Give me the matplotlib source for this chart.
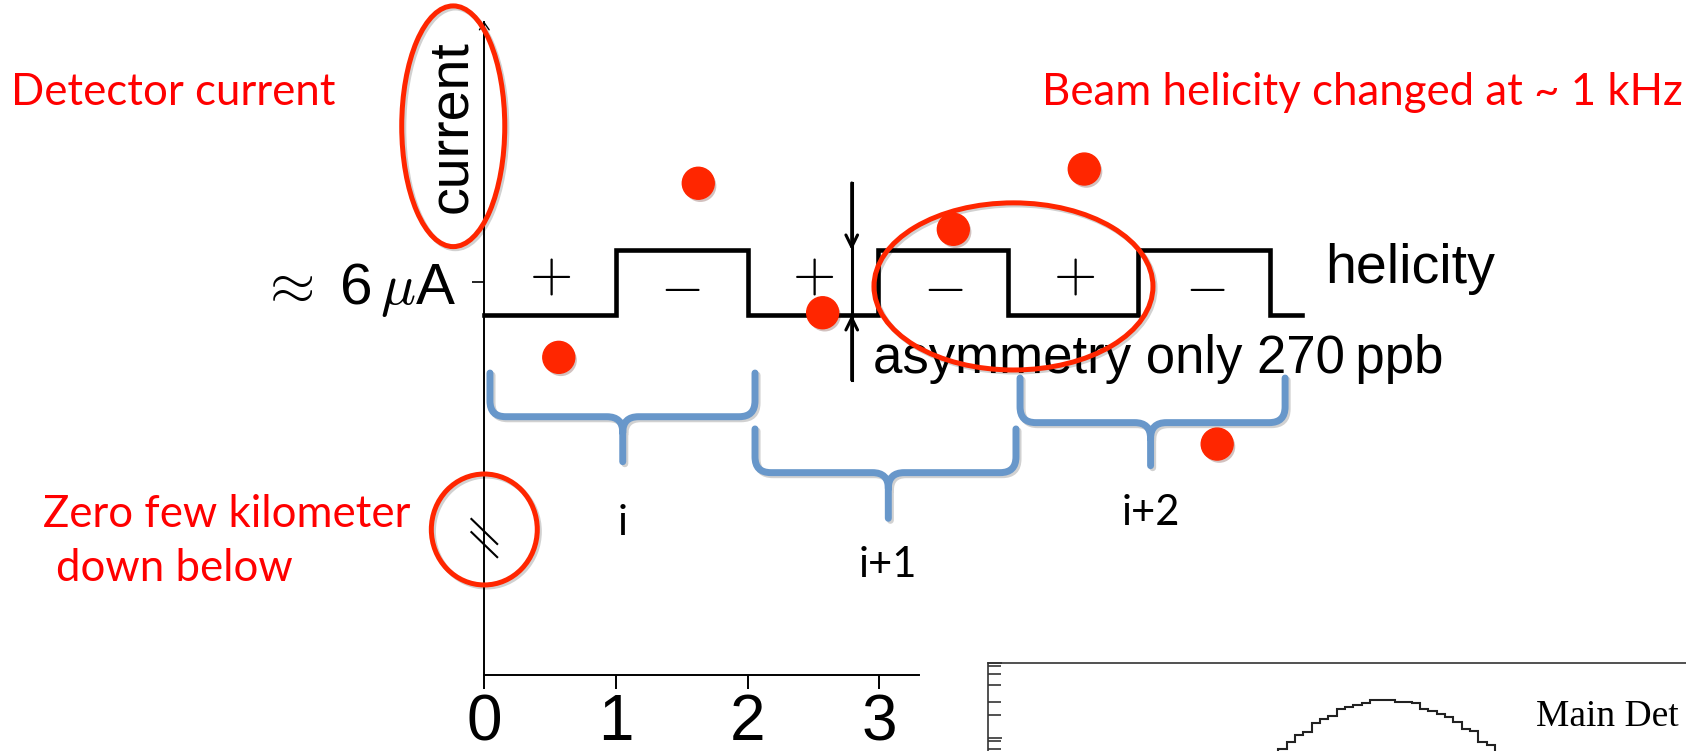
import matplotlib.pyplot as plt
import matplotlib.patheffects as pe
from matplotlib.patches import Ellipse, PathPatch
from matplotlib.path import Path
from matplotlib.ticker import LogLocator
import numpy as np

plt.rcParams['font.family'] = 'Liberation Sans'
plt.rcParams['mathtext.fontset'] = 'cm'

W, H = 1686, 751
RED = '#ff2600'
BLUE = '#6897ca'

# time in helicity windows (~1 ms each), current in the same drawing units
window_edges = [0.0, 1.0, 2.0, 2.99, 3.98, 4.97, 5.97, 6.21]
helicity = ['+', '-', '+', '-', '+', '-', '+']
current_plus = 2.74
current_minus = 3.23
current_level = 2.985      # ~6 uA
time_ticks = [0, 1, 2, 3]

# sign of each window, written inside the square wave
sign_t = [0.499, 1.492, 2.495, 3.488, 4.481, 5.476]
sign_y = {'+': 3.034, '-': 2.941}

# detector current read out in each window
sample_t = [0.566, 1.626, 2.571, 3.564, 4.559, 5.569]
sample_i = [2.416, 3.739, 2.755, 3.389, 3.847, 1.757]

# asymmetry marker
arrow_t = 2.792
arrow_lo, arrow_hi = 2.244, 3.741

# pairs of windows forming one asymmetry
brace_x0 = [0.043, 2.057, 4.071]
brace_x1 = [2.057, 4.040, 6.085]
brace_tip = [1.052, 3.070, 5.063]
brace_top = [2.297, 1.872, 2.259]
brace_mid = [1.965, 1.540, 1.920]
brace_end = [1.623, 1.193, 1.593]
brace_labels = ['i', 'i+1', 'i+2']
brace_label_y = [1.066, 0.749, 1.144]

# main detector asymmetry histogram (log counts)
asym_bins = np.arange(-17, 18)
asym_counts = [110, 210, 330, 500,
               700, 885, 1087, 1202, 1585, 1758, 1945, 2388, 2541, 2703,
               2930, 3155, 3155, 3155, 3020, 3020, 2877, 2440, 2291, 2070,
               1870, 1619, 1318, 1227, 885, 800,
               560, 380, 240, 130]

# pixel frame of the sketch: origin of the time axis and size of one window
x0_px, y0_px, unit = 484.3, 675.3, 131.6


def brace(x0, x1, xm, ytop, ymid, yend, r=0.12):
    verts = [(x0, ytop), (x0, ymid + r), (x0, ymid), (x0 + r, ymid),
             (xm - r, ymid), (xm, ymid), (xm, ymid - r), (xm, yend),
             (xm, ymid - r), (xm, ymid), (xm + r, ymid),
             (x1 - r, ymid), (x1, ymid), (x1, ymid + r), (x1, ytop)]
    codes = [Path.MOVETO, Path.LINETO, Path.CURVE3, Path.CURVE3,
             Path.LINETO, Path.CURVE3, Path.CURVE3, Path.LINETO,
             Path.MOVETO, Path.CURVE3, Path.CURVE3,
             Path.LINETO, Path.CURVE3, Path.CURVE3, Path.LINETO]
    return Path(verts, codes)


fig = plt.figure(figsize=(W / 100, H / 100), dpi=100)
ax = fig.add_axes([0, 0, 1, 1])
ax.set_xlim(-x0_px / unit, (W - x0_px) / unit)
ax.set_ylim(-(H - y0_px) / unit, y0_px / unit)
ax.patch.set_visible(False)

# axes of the sketch
for side in ['top', 'right']:
    ax.spines[side].set_visible(False)
ax.spines['left'].set_position(('data', 0))
ax.spines['bottom'].set_position(('data', 0))
ax.spines['left'].set_bounds(0, 4.967)
ax.spines['bottom'].set_bounds(0, 3.30)
ax.spines['left'].set_linewidth(1.4)
ax.spines['bottom'].set_linewidth(1.4)
ax.annotate('', xy=(0, 4.967), xytext=(0, 4.8),
            arrowprops=dict(arrowstyle='->,head_length=0.5,head_width=0.35',
                            lw=1.0, color='k', shrinkA=0, shrinkB=0))

ax.set_xticks(time_ticks)
ax.set_xticklabels([str(t) for t in time_ticks])
ax.tick_params(axis='x', direction='out', length=9.9, width=1.4, pad=3,
               labelsize=46)
ax.set_yticks([current_level])
ax.set_yticklabels([r'$\approx\;$6$\,\mu$A'])
ax.tick_params(axis='y', direction='out', length=8.6, width=1.2, pad=12,
               labelsize=42)

# axis break: zero is far below
break_y = 1.043
for dy in (0.05, -0.05):
    ax.plot([-0.098, 0.098], [break_y + dy + 0.095, break_y + dy - 0.095],
            color='k', lw=1.5, zorder=3)

ax.text(-0.139, 4.172, 'current', rotation=90, rotation_mode='anchor',
        ha='center', va='baseline', fontsize=40, zorder=3)

# helicity square wave
levels = [current_plus if h == '+' else current_minus for h in helicity]
ax.step(window_edges, levels + [levels[-1]], where='post', color='k',
        lw=3.3, solid_joinstyle='miter', zorder=2)
for t, h in zip(sign_t, helicity):
    ax.text(t, sign_y[h], r'$+$' if h == '+' else r'$-$', ha='center',
            va='center', fontsize=40, zorder=3)
ax.text(6.388, 2.979, 'helicity', fontsize=40, va='baseline')

# asymmetry marker between the two levels
ax.plot([arrow_t, arrow_t], [arrow_lo, arrow_hi], color='k', lw=2.2)
ax.annotate('', xy=(arrow_t, current_minus), xytext=(arrow_t, arrow_hi),
            arrowprops=dict(arrowstyle='->,head_length=0.85,head_width=0.42',
                            lw=2.2, color='k', shrinkA=0, shrinkB=0))
ax.annotate('', xy=(arrow_t, current_plus), xytext=(arrow_t, arrow_lo),
            arrowprops=dict(arrowstyle='->,head_length=0.85,head_width=0.42',
                            lw=2.2, color='k', shrinkA=0, shrinkB=0))
ax.text(2.954, 2.297, 'asymmetry only 270\u2009ppb', fontsize=38,
        va='baseline', zorder=3)

# braces grouping the helicity pairs
line_shadow = [pe.SimpleLineShadow(offset=(1.5, -1.5), alpha=0.18),
               pe.Normal()]
for k in range(3):
    p = brace(brace_x0[k], brace_x1[k], brace_tip[k], brace_top[k],
              brace_mid[k], brace_end[k])
    ax.add_patch(PathPatch(p, fill=False, ec=BLUE, lw=5, capstyle='round',
                           joinstyle='round', zorder=4,
                           path_effects=line_shadow))
    ax.text(brace_tip[k], brace_label_y[k], brace_labels[k], family='Lato',
            fontsize=30, ha='center', va='baseline')

# highlights
for xy, w, h in [((-0.236, 4.172), 0.783, 1.829),
                 ((4.021, 2.955), 2.12, 1.27),
                 ((0.0, 1.108), 0.805, 0.843)]:
    ax.add_patch(Ellipse(xy, w, h, fill=False, ec=RED, lw=3.6, zorder=5,
                         path_effects=line_shadow))

ax.plot(sample_t, sample_i, 'o', ms=23, color=RED, mec=RED, zorder=6,
        path_effects=[pe.SimplePatchShadow(offset=(1.5, -2), alpha=0.25),
                      pe.Normal()])

ax.text(-3.597, 4.335, 'Detector current', color='red', family='Lato',
        fontsize=31.5, va='baseline')
ax.text(9.109, 4.335, 'Beam helicity changed at ~ 1 kHz', color='red',
        family='Lato', fontsize=31.5, ha='right', va='baseline')
ax.text(-3.353, 1.127, 'Zero few kilometer', color='red', family='Lato',
        fontsize=31.5, va='baseline')
ax.text(-3.255, 0.717, 'down below', color='red', family='Lato',
        fontsize=31.5, va='baseline')

# main detector asymmetry distribution, only its top shows
inset_h = 400
ax_in = fig.add_axes([988.3 / W, 1 - (662.7 + inset_h) / H, 900 / W,
                      inset_h / H])
ax_in.stairs(asym_counts, asym_bins, baseline=None, color='#222222', lw=1.5)
ax_in.set_yscale('log')
ax_in.set_ylim(10 ** (4 - inset_h / 75), 1e4)
ax_in.set_xlim(-13 - (1278.3 - 988.3) / 8.33, -13 + (900 - 290) / 8.33)
ax_in.yaxis.set_minor_locator(LogLocator(subs=[2, 3, 5, 7, 9]))
ax_in.tick_params(axis='y', which='both', direction='in', labelleft=False,
                  color='#333333', width=1.2)
ax_in.tick_params(axis='y', which='major', length=10)
ax_in.tick_params(axis='y', which='minor', length=9)
ax_in.tick_params(axis='x', which='both', top=False, bottom=False,
                  labelbottom=False)
for side in ['top', 'left']:
    ax_in.spines[side].set_linewidth(1.2)
    ax_in.spines[side].set_color('#333333')
fig.text(1536 / W, 1 - 726 / H, 'Main Det', family='Liberation Serif',
         fontsize=27, va='baseline')

fig.savefig('out.png', dpi=100)
